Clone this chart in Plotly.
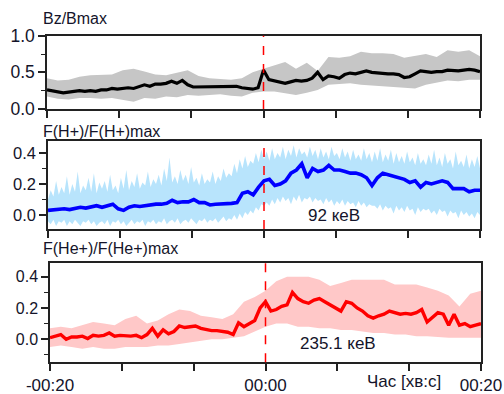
import numpy as np
import plotly.graph_objects as go

# ---- time grids (minutes relative to event) ----
t_line = np.linspace(-20, 20, 81)      # step 0.5 min
t_band = np.linspace(-20, 20, 41)      # step 1 min
t_hband = np.linspace(-20, 20, 161)    # step 0.25 min

# ---- Bz/Bmax ----
bz_mean = [0.26, 0.25, 0.24, 0.22, 0.23, 0.24, 0.25, 0.24, 0.25, 0.24,
           0.26, 0.26, 0.28, 0.27, 0.28, 0.29, 0.28, 0.30, 0.33, 0.31,
           0.34, 0.34, 0.35, 0.38, 0.35, 0.39, 0.33, 0.30, 0.30, 0.31,
           0.30, 0.31, 0.30, 0.31, 0.30, 0.31, 0.29, 0.28, 0.27, 0.29,
           0.53, 0.40, 0.38, 0.37, 0.35, 0.37, 0.39, 0.38, 0.39, 0.42,
           0.50, 0.40, 0.45, 0.44, 0.42, 0.47, 0.49, 0.48, 0.50, 0.52,
           0.50, 0.49, 0.48, 0.48, 0.48, 0.47, 0.43, 0.44, 0.48, 0.52,
           0.51, 0.50, 0.51, 0.51, 0.53, 0.52, 0.52, 0.53, 0.54, 0.53, 0.51]
bz_upper = [0.42, 0.39, 0.40, 0.44, 0.46, 0.46, 0.47, 0.53, 0.55, 0.51,
            0.47, 0.46, 0.50, 0.53, 0.45, 0.42, 0.41, 0.40, 0.42, 0.50,
            0.55, 0.60, 0.64, 0.55, 0.63, 0.52, 0.71, 0.70, 0.72, 0.78,
            0.76, 0.76, 0.75, 0.70, 0.72, 0.75, 0.71, 0.80, 0.78, 0.80, 0.72]
bz_lower = [0.17, 0.14, 0.13, 0.15, 0.15, 0.14, 0.15, 0.12, 0.10, 0.15,
            0.14, 0.17, 0.16, 0.19, 0.18, 0.19, 0.20, 0.18, 0.17, 0.22,
            0.24, 0.24, 0.22, 0.19, 0.22, 0.26, 0.33, 0.34, 0.35, 0.33,
            0.32, 0.31, 0.29, 0.28, 0.28, 0.33, 0.36, 0.39, 0.38, 0.40, 0.40]

# ---- F(H+)/F(H+)max, 92 keV ----
h_mean = [0.03, 0.035, 0.04, 0.04, 0.035, 0.04, 0.05, 0.045, 0.05, 0.06,
          0.05, 0.06, 0.07, 0.04, 0.03, 0.05, 0.06, 0.055, 0.06, 0.07,
          0.07, 0.07, 0.075, 0.095, 0.08, 0.085, 0.085, 0.10, 0.08, 0.08,
          0.065, 0.07, 0.07, 0.075, 0.075, 0.08, 0.14, 0.15, 0.13, 0.18,
          0.22, 0.23, 0.19, 0.20, 0.22, 0.27, 0.29, 0.33, 0.24, 0.30,
          0.28, 0.29, 0.32, 0.29, 0.29, 0.28, 0.27, 0.27, 0.26, 0.24,
          0.19, 0.24, 0.27, 0.26, 0.25, 0.24, 0.23, 0.21, 0.22, 0.18,
          0.21, 0.20, 0.21, 0.22, 0.21, 0.17, 0.17, 0.17, 0.15, 0.16, 0.16]
h_upper = [0.10, 0.16, 0.12, 0.22, 0.13, 0.18, 0.14, 0.25, 0.13, 0.20, 0.15, 0.28, 0.14, 0.19, 0.16, 0.24, 0.15, 0.27, 0.14, 0.21, 0.17,
           0.22, 0.15, 0.26, 0.16, 0.19, 0.14, 0.24, 0.17, 0.29, 0.16, 0.22, 0.18, 0.27, 0.17, 0.21, 0.19, 0.28, 0.18, 0.23, 0.20,
           0.26, 0.19, 0.30, 0.22, 0.37, 0.21, 0.25, 0.20, 0.29, 0.22, 0.26, 0.20, 0.31, 0.21, 0.24, 0.19, 0.27, 0.20, 0.23, 0.21,
           0.28, 0.20, 0.25, 0.22, 0.30, 0.24, 0.27, 0.25, 0.33, 0.27, 0.36, 0.30, 0.38, 0.31, 0.35, 0.33, 0.40, 0.34, 0.42, 0.36,
           0.41, 0.35, 0.43, 0.36, 0.40, 0.37, 0.44, 0.36, 0.42, 0.38, 0.45, 0.37, 0.43, 0.39, 0.41, 0.37, 0.44, 0.38, 0.42, 0.36,
           0.43, 0.37, 0.41, 0.36, 0.44, 0.38, 0.40, 0.36, 0.43, 0.37, 0.41, 0.35, 0.42, 0.36, 0.39, 0.35, 0.43, 0.36, 0.40, 0.34,
           0.41, 0.35, 0.43, 0.34, 0.39, 0.35, 0.42, 0.33, 0.40, 0.34, 0.38, 0.33, 0.41, 0.34, 0.37, 0.32, 0.40, 0.33, 0.36, 0.32,
           0.39, 0.33, 0.42, 0.32, 0.37, 0.31, 0.40, 0.33, 0.36, 0.30, 0.41, 0.32, 0.35, 0.31, 0.39, 0.30, 0.36, 0.31, 0.38, 0.30]
h_lower = [-0.04, -0.06, -0.03, -0.07, -0.04, -0.05, -0.03, -0.07, -0.04, -0.06, -0.03, -0.05, -0.07, -0.04, -0.05, -0.03, -0.06, -0.04, -0.07, -0.05, -0.04,
           -0.06, -0.03, -0.07, -0.04, -0.05, -0.03, -0.06, -0.04, -0.07, -0.05, -0.03, -0.06, -0.04, -0.05, -0.03, -0.07, -0.04, -0.05, -0.03, -0.06,
           -0.04, -0.05, -0.02, -0.06, -0.04, -0.03, -0.05, -0.02, -0.06, -0.04, -0.03, -0.05, -0.02, -0.04, -0.06, -0.03, -0.04, -0.02, -0.05, -0.03,
           -0.04, -0.02, -0.05, -0.03, -0.01, -0.04, -0.02, -0.03, 0.00, -0.03, 0.01, -0.02, 0.02, 0.00, 0.03, 0.01, 0.05, 0.03, 0.07, 0.06,
           0.08, 0.06, 0.10, 0.07, 0.11, 0.08, 0.12, 0.09, 0.11, 0.07, 0.12, 0.09, 0.13, 0.08, 0.11, 0.10, 0.12, 0.08, 0.11, 0.09,
           0.10, 0.07, 0.11, 0.08, 0.10, 0.06, 0.09, 0.07, 0.10, 0.06, 0.09, 0.07, 0.08, 0.05, 0.09, 0.06, 0.08, 0.05, 0.07, 0.06,
           0.06, 0.04, 0.07, 0.03, 0.06, 0.04, 0.05, 0.01, 0.06, 0.03, 0.05, 0.02, 0.06, 0.03, 0.04, 0.00, 0.05, 0.02, 0.04, 0.03,
           0.04, 0.01, 0.03, 0.00, 0.04, 0.02, 0.03, -0.01, 0.03, 0.01, 0.02, -0.02, 0.03, 0.00, 0.02, -0.01, 0.01, -0.02, 0.02, 0.00]

# ---- F(He+)/F(He+)max, 235.1 keV ----
he_mean = [0.01, 0.02, 0.03, 0.00, 0.015, 0.015, 0.02, 0.005, 0.025, 0.02,
           0.025, 0.04, 0.02, 0.025, 0.02, 0.02, 0.025, 0.01, 0.03, 0.07,
           0.02, 0.06, 0.035, 0.05, 0.085, 0.075, 0.08, 0.085, 0.07, 0.06,
           0.055, 0.055, 0.05, 0.045, 0.03, 0.105, 0.08, 0.10, 0.12, 0.20,
           0.24, 0.18, 0.19, 0.21, 0.22, 0.30, 0.26, 0.24, 0.23, 0.25,
           0.26, 0.24, 0.22, 0.20, 0.18, 0.24, 0.23, 0.20, 0.18, 0.15,
           0.135, 0.15, 0.16, 0.18, 0.17, 0.16, 0.165, 0.16, 0.17, 0.19,
           0.11, 0.14, 0.17, 0.16, 0.09, 0.16, 0.09, 0.10, 0.08, 0.09, 0.10]
he_upper = [0.07, 0.08, 0.07, 0.09, 0.11, 0.10, 0.09, 0.13, 0.15, 0.10,
            0.12, 0.16, 0.19, 0.18, 0.15, 0.14, 0.13, 0.16, 0.24, 0.27,
            0.31, 0.37, 0.40, 0.40, 0.40, 0.38, 0.34, 0.36, 0.38, 0.38,
            0.38, 0.38, 0.35, 0.35, 0.35, 0.33, 0.31, 0.28, 0.21, 0.29, 0.31]
he_lower = [-0.05, -0.04, -0.05, -0.06, -0.05, -0.06, -0.06, -0.05, -0.05, -0.05,
            -0.04, -0.04, -0.03, -0.02, -0.01, 0.00, 0.00, 0.01, 0.02, 0.05,
            0.08, 0.10, 0.10, 0.08, 0.08, 0.07, 0.07, 0.06, 0.06, 0.05,
            0.04, 0.04, 0.03, 0.03, 0.02, 0.02, 0.015, 0.01, 0.01, 0.01, 0.01]

x_tickvals = [-20, -40/3, -20/3, 0, 20/3, 40/3, 20]
x_ticktext = ["-00:20", "", "", "00:00", "", "", "00:20"]

FONT = "Liberation Sans, Arial, sans-serif"
TXT = "#14142a"
W, H = 504, 394

panels = [
    dict(mean=bz_mean, up=bz_upper, lo=bz_lower, tb=t_band, line="#000000", band="#c6c6c6", lw=3.2,
         x=(47, 480), y=(35.7, 109), yr=[0, 1.0], ytv=[0, 0.5, 1.0], ytt=["0.0", "0.5", "1.0"],
         minor=0.25, title="Bz/Bmax", ty=19, fs=17.5),
    dict(mean=h_mean, up=h_upper, lo=h_lower, tb=t_hband, line="#0000ff", band="#b8e4fc", lw=3.6,
         x=(48, 480), y=(141, 229), yr=[-0.09, 0.477], ytv=[0, 0.2, 0.4], ytt=["0.0", "0.2", "0.4"],
         minor=0.1, title="F(H+)/F(H+)max", ty=131, fs=16.5),
    dict(mean=he_mean, up=he_upper, lo=he_lower, tb=t_band, line="#ff0000", band="#ffc8c8", lw=3.4,
         x=(50, 481), y=(262.7, 362.3), yr=[-0.147, 0.489], ytv=[0, 0.2, 0.4], ytt=["0.0", "0.2", "0.4"],
         minor=0.1, title="F(He+)/F(He+)max", ty=248, fs=16),
]

fig = go.Figure()
layout = dict(width=W, height=H, autosize=False, margin=dict(l=0, r=0, t=0, b=0, pad=0),
              paper_bgcolor="white", plot_bgcolor="white", showlegend=False,
              font=dict(family=FONT, size=16, color=TXT))
shapes = []
annotations = []

for i, p in enumerate(panels, start=1):
    sfx = "" if i == 1 else str(i)
    xa, ya = "x" + sfx, "y" + sfx
    fig.add_trace(go.Scatter(x=p["tb"], y=p["lo"], mode="lines", line=dict(width=0, color=p["band"]),
                             xaxis=xa, yaxis=ya, hoverinfo="skip"))
    fig.add_trace(go.Scatter(x=p["tb"], y=p["up"], mode="lines", line=dict(width=0, color=p["band"]),
                             fill="tonexty", fillcolor=p["band"], xaxis=xa, yaxis=ya, hoverinfo="skip"))
    fig.add_trace(go.Scatter(x=t_line, y=p["mean"], mode="lines", line=dict(width=p["lw"], color=p["line"]),
                             xaxis=xa, yaxis=ya))
    x0, x1 = p["x"]
    yt, yb = p["y"]
    layout["xaxis" + sfx] = dict(
        domain=[x0 / W, x1 / W], anchor=ya, range=[-20, 20], automargin=False,
        showline=True, mirror=True, linecolor="#222222", linewidth=1.5,
        ticks="outside", ticklen=7, tickwidth=1.5, tickcolor="#222222",
        tickvals=x_tickvals, ticktext=x_ticktext if i == 3 else [""] * 7,
        showticklabels=(i == 3), showgrid=False, zeroline=False,
        tickfont=dict(size=17, family=FONT, color=TXT),
    )
    layout["yaxis" + sfx] = dict(
        domain=[1 - yb / H, 1 - yt / H], anchor=xa, range=p["yr"], automargin=False,
        showline=True, mirror=True, linecolor="#222222", linewidth=1.5,
        ticks="outside", ticklen=7, tickwidth=1.5, tickcolor="#222222",
        tickvals=p["ytv"], ticktext=p["ytt"], showgrid=False, zeroline=False,
        tickfont=dict(size=p["fs"], family=FONT, color=TXT),
        minor=dict(dtick=p["minor"], tick0=0, ticks="outside", ticklen=4, tickwidth=1.2,
                   tickcolor="#222222", showgrid=False),
    )
    shapes.append(dict(type="line", xref=xa, yref=ya + " domain", x0=0, x1=0, y0=0, y1=1,
                       line=dict(color="#ff0000", width=1.5, dash="dash")))
    annotations.append(dict(text=p["title"], xref="paper", yref="paper", x=41 / W, y=1 - p["ty"] / H,
                            xanchor="left", yanchor="middle", showarrow=False,
                            font=dict(size=16, family=FONT, color=TXT)))

annotations.append(dict(text="92 кеВ", xref="x2", yref="y2", x=6.5, y=0.0,
                        xanchor="center", yanchor="middle", showarrow=False,
                        font=dict(size=17, family=FONT, color=TXT)))
annotations.append(dict(text="235.1 кеВ", xref="x3", yref="y3", x=6.7, y=-0.024,
                        xanchor="center", yanchor="middle", showarrow=False,
                        font=dict(size=17, family=FONT, color=TXT)))
annotations.append(dict(text="Час [хв:с]", xref="paper", yref="paper", x=404 / W, y=1 - 381.5 / H,
                        xanchor="center", yanchor="middle", showarrow=False,
                        font=dict(size=17, family=FONT, color=TXT)))

layout["shapes"] = shapes
layout["annotations"] = annotations
fig.update_layout(**layout)
fig.write_html("out.html")
